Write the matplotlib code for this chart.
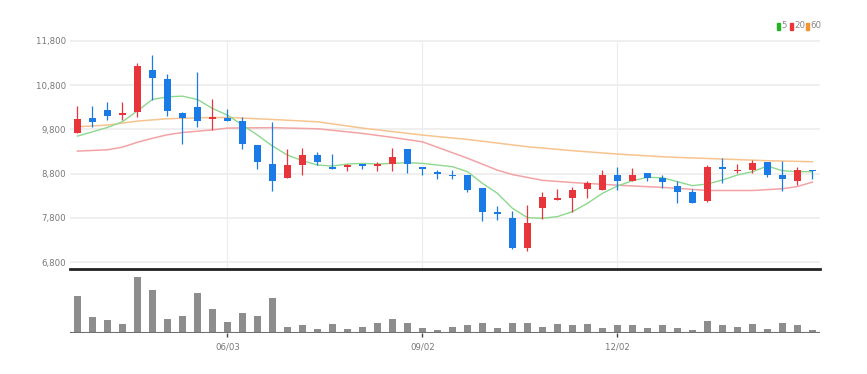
import matplotlib
matplotlib.use("Agg")
import matplotlib.pyplot as plt
from matplotlib.patches import Rectangle
import numpy as np

# daily candles
opens = [9730, 10060, 10240, 10120, 10200, 11140, 10950, 10180, 10300, 10040,
         10060, 10000, 9440, 9020, 8700, 9000, 9230, 8940, 8940, 9030,
         8970, 9030, 9350, 8940, 8840, 8780, 8760, 8470, 7920, 7800,
         7110, 8030, 8210, 8260, 8460, 8430, 8770, 8640, 8810, 8700,
         8530, 8390, 8180, 8950, 8850, 8880, 9070, 8770, 8640, 8880]
highs = [10340, 10340, 10420, 10420, 11300, 11490, 11050, 10200, 11090, 10480,
         10260, 10070, 9440, 9960, 9350, 9370, 9300, 9250, 9030, 9030,
         9060, 9380, 9350, 8940, 8880, 8880, 8780, 8470, 8070, 7960,
         8100, 8390, 8450, 8490, 8630, 8880, 8940, 8930, 8810, 8760,
         8630, 8450, 9000, 9150, 9030, 9110, 9070, 9090, 8960, 8880]
lows = [9710, 9850, 10010, 10010, 10090, 10460, 10100, 9480, 9850, 9790,
        10000, 9360, 8900, 8400, 8700, 8780, 8990, 8900, 8870, 8900,
        8870, 8870, 8820, 8760, 8670, 8690, 8390, 7740, 7750, 7100,
        7060, 7780, 8210, 7940, 8240, 8430, 8420, 8640, 8640, 8480,
        8130, 8130, 8150, 8600, 8810, 8810, 8730, 8400, 8540, 8690]
closes = [10030, 9970, 10100, 10180, 11240, 10970, 10210, 10050, 10000, 10070,
          10000, 9480, 9060, 8630, 8990, 9230, 9060, 8910, 9000, 8980,
          9020, 9170, 9030, 8910, 8800, 8750, 8430, 7940, 7900, 7120,
          7690, 8280, 8240, 8430, 8600, 8780, 8630, 8760, 8710, 8610,
          8390, 8130, 8960, 8910, 8880, 9050, 8760, 8670, 8880, 8850]
volumes = [111000, 46000, 37000, 27000, 166000, 129000, 42000, 49000, 119000, 72000,
           32000, 60000, 49000, 103000, 18000, 24000, 12000, 27000, 13000, 18000,
           28000, 42000, 28000, 16000, 8000, 17000, 22000, 29000, 16000, 29000,
           29000, 18000, 27000, 24000, 27000, 16000, 24000, 24000, 16000, 22000,
           16000, 8000, 34000, 22000, 17000, 27000, 13000, 29000, 22000, 8000]

# moving averages as drawn
ma5 = [9649, 9747, 9845, 9973, 10221, 10477, 10537, 10552, 10477, 10274,
       10123, 9898, 9672, 9424, 9221, 9093, 8995, 8973, 9018, 9033,
       9018, 9033, 9048, 9033, 8995, 8958, 8845, 8582, 8356, 8018,
       7807, 7792, 7830, 7942, 8130, 8356, 8521, 8642, 8717, 8709,
       8619, 8529, 8567, 8657, 8770, 8845, 8973, 8867, 8845, 8845]
ma20_idx = [0, 2, 3, 4, 5, 6, 7, 9, 10, 13, 16, 19, 21, 23, 26, 28, 29, 31, 33, 36, 39, 40, 42, 45, 47, 48, 49]
ma20 = [9310, 9340, 9400, 9510, 9600, 9680, 9730, 9790, 9830, 9840, 9815, 9710, 9620, 9520,
        9150, 8880, 8780, 8650, 8600, 8540, 8490, 8470, 8420, 8420, 8460, 8510, 8610]
ma60_idx = [0, 2, 4, 6, 8, 10, 13, 16, 19, 23, 26, 30, 33, 36, 39, 40, 43, 46, 49]
ma60 = [9860, 9898, 9988, 10041, 10063, 10071, 10025, 9973, 9830, 9672,
        9574, 9409, 9320, 9243, 9183, 9168, 9131, 9093, 9070]

x_ticks = [10, 23, 36]
x_labels = ['06/03', '09/02', '12/02']
y_ticks = [6800, 7800, 8800, 9800, 10800, 11800]

RED = '#e8353b'
BLUE = '#1b7be6'
small = dict(fontfamily='DejaVu Sans', fontstretch='condensed', fontsize=6.8)

fig = plt.figure(figsize=(8.67, 3.74), dpi=100)
ax = fig.add_axes([0.0807, 0.280, 0.865, 0.613])
axv = fig.add_axes([0.0807, 0.110, 0.865, 0.170], sharex=ax)

x = np.arange(len(opens))
o = np.array(opens); c = np.array(closes)
up = c >= o
cols = np.where(up, RED, BLUE)

ax.plot(ma60_idx, ma60, color='#f7c490', lw=1.1, zorder=2)
ax.plot(ma20_idx, ma20, color='#f3a3a6', lw=1.1, zorder=2)
ax.plot(x, ma5, color='#8ed88e', lw=1.0, zorder=2)

ax.vlines(x, lows, highs, colors=cols, lw=0.9, zorder=3)
body_h = np.maximum(np.abs(c - o), 25)
ax.bar(x, body_h, bottom=np.minimum(o, c), width=0.48, color=cols, zorder=4)

ax.set_ylim(6640, 11820)
ax.set_xlim(-0.5, 49.5)
ax.set_yticks(y_ticks)
ax.set_yticklabels([f'{v:,}' for v in y_ticks], color='#777777', **small)
ax.tick_params(axis='y', length=0, pad=3)
ax.tick_params(axis='x', length=0, labelbottom=False)
ax.set_xticks(x_ticks)
ax.grid(axis='y', color='#eeeeee', lw=1.3)
ax.grid(axis='x', color='#ececec', lw=0.8)
ax.set_axisbelow(True)
for s in ax.spines.values():
    s.set_visible(False)

axv.bar(x, volumes, width=0.48, color='#8d8d8d', zorder=3)
axv.axhline(0, color='#707070', lw=1.5, zorder=4)
axv.set_ylim(0, 190000)
axv.set_yticks([])
for s in ['bottom', 'left', 'right']:
    axv.spines[s].set_visible(False)
axv.spines['top'].set_color('#222222')
axv.spines['top'].set_linewidth(2)
axv.set_xticks(x_ticks)
axv.set_xticklabels(x_labels, color='#777777', **small)
axv.tick_params(axis='x', length=3, width=1, color='#444444', pad=4)

# legend in the top right corner
leg = [('5', '#22b422', 776.5), ('20', '#e83535', 789.5), ('60', '#f7922f', 805.5)]
for label, col, px in leg:
    fig.patches.append(Rectangle((px / 867, 1 - 29.5 / 374), 3 / 867, 7 / 374,
                                 transform=fig.transFigure, color=col))
    fig.text((px + 4.5) / 867, 1 - 26 / 374, label, color='#888888',
             va='center', ha='left', **small)

fig.savefig('out.png', dpi=100)
